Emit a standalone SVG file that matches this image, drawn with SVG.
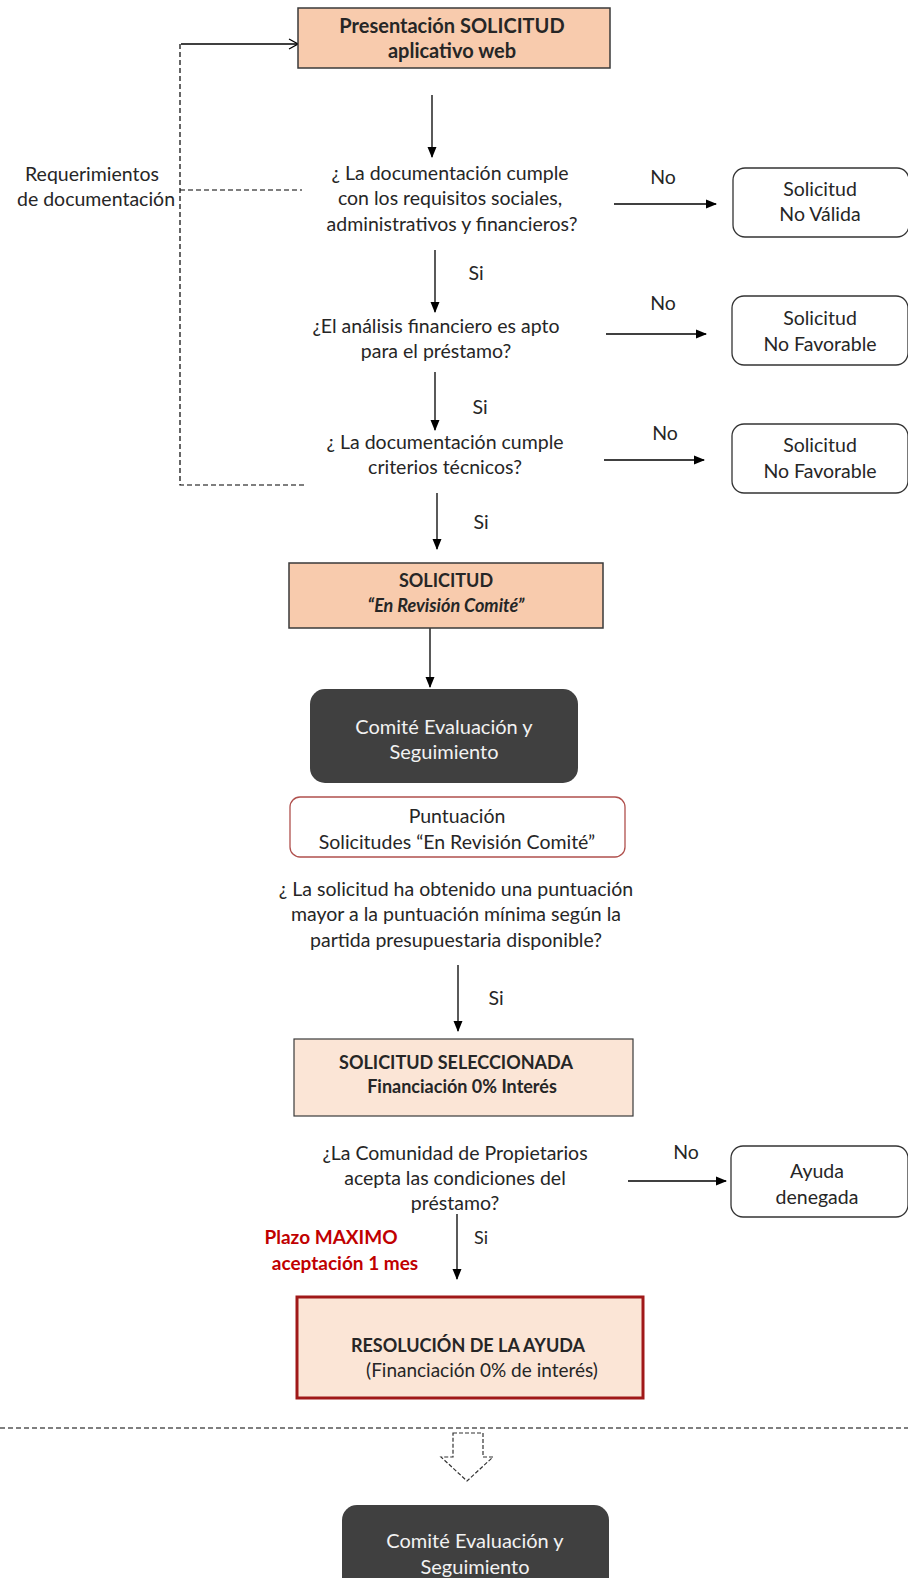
<svg xmlns="http://www.w3.org/2000/svg" width="908" height="1578" viewBox="0 0 908 1578">
<defs>
<style>
text{font-family:Lato,"Open Sans","Liberation Sans",sans-serif;font-size:19.5px;fill:#262626;text-anchor:middle}
.b{font-weight:bold;font-size:18px}
.red{fill:#C00000;font-weight:bold;font-size:19px}
.w{fill:#F2F2F2;font-size:20px}
.ln{stroke:#000;stroke-width:1.3;fill:none}
.dash{stroke:#000;stroke-width:1.2;fill:none;stroke-dasharray:5,3}
.peach{fill:#F8CBAD;stroke:#3a3a3a;stroke-width:1.5}
.lpeach{fill:#FBE5D6;stroke:#3a3a3a;stroke-width:1.2}
.out{fill:#fff;stroke:#333;stroke-width:1.3}
.dark{fill:#404040;stroke:none}
</style>
<marker id="ah" markerWidth="11" markerHeight="11" refX="10" refY="5.5" orient="auto" markerUnits="userSpaceOnUse">
<path d="M0,1 L11,5.5 L0,10 Z" fill="#000"/>
</marker>
<marker id="oa" markerWidth="12" markerHeight="12" refX="11" refY="6" orient="auto" markerUnits="userSpaceOnUse">
<path d="M2,1 L11,6 L2,11" fill="none" stroke="#000" stroke-width="1.2"/>
</marker>
</defs>

<g id="connectors">
<path class="ln" d="M181,44 H298" marker-end="url(#oa)"/>
<path class="dash" d="M180,44 V485 H306"/>
<path class="dash" d="M180,190 H302"/>
<path class="ln" d="M432,95 V157" marker-end="url(#ah)"/>
<path class="ln" d="M614,204 H716" marker-end="url(#ah)"/>
<path class="ln" d="M435,250 V312" marker-end="url(#ah)"/>
<path class="ln" d="M606,334 H706" marker-end="url(#ah)"/>
<path class="ln" d="M435,372 V430" marker-end="url(#ah)"/>
<path class="ln" d="M604,460 H704" marker-end="url(#ah)"/>
<path class="ln" d="M437,493 V549" marker-end="url(#ah)"/>
<path class="ln" d="M430,628 V687" marker-end="url(#ah)"/>
<path class="ln" d="M458,965 V1031" marker-end="url(#ah)"/>
<path class="ln" d="M628,1181 H726" marker-end="url(#ah)"/>
<path class="ln" d="M457,1214 V1279" marker-end="url(#ah)"/>
<path class="dash" d="M0,1428 H908"/>
<path d="M453,1433 H483 V1457 H493 L467,1481 L441,1457 H453 Z" fill="#fff" stroke="#333" stroke-width="1.2" stroke-dasharray="4,2"/>
<text x="663" y="184">No</text>
<text x="663" y="310">No</text>
<text x="665" y="440">No</text>
<text x="686" y="1159">No</text>
<text x="476" y="280">Si</text>
<text x="480" y="414">Si</text>
<text x="481" y="529">Si</text>
<text x="496" y="1005">Si</text>
<text x="481" y="1244" style="font-size:18px">Si</text>
<text x="92" y="181">Requerimientos</text>
<text x="96" y="206">de documentación</text>
<text class="red" x="331" y="1244">Plazo MAXIMO</text>
<text class="red" x="345" y="1270">aceptación 1 mes</text>
</g>

<g id="n1">
<rect class="peach" x="298" y="8" width="312" height="60"/>
<text class="b" x="452" y="33" style="font-size:20px">Presentación SOLICITUD</text>
<text class="b" x="452" y="58" style="font-size:20px">aplicativo web</text>
</g>

<g id="q1">
<text x="450" y="180">¿ La documentación  cumple</text>
<text x="450" y="205">con los requisitos sociales,</text>
<text x="452" y="231">administrativos y financieros?</text>
</g>

<g id="r1">
<rect class="out" x="733" y="168" width="176" height="69" rx="12"/>
<text x="820" y="196">Solicitud</text>
<text x="820" y="221">No Válida</text>
</g>

<g id="q2">
<text x="436" y="333">¿El análisis financiero es apto</text>
<text x="436" y="358">para el préstamo?</text>
</g>

<g id="r2">
<rect class="out" x="732" y="296" width="176" height="69" rx="12"/>
<text x="820" y="325">Solicitud</text>
<text x="820" y="351">No Favorable</text>
</g>

<g id="q3">
<text x="445" y="449">¿ La documentación  cumple</text>
<text x="445" y="474">criterios técnicos?</text>
</g>

<g id="r3">
<rect class="out" x="732" y="424" width="176" height="69" rx="12"/>
<text x="820" y="452">Solicitud</text>
<text x="820" y="478">No Favorable</text>
</g>

<g id="n2">
<rect class="peach" x="289" y="563" width="314" height="65"/>
<text class="b" x="446" y="587">SOLICITUD</text>
<text class="b" x="446" y="612" style="font-style:italic">“En Revisión Comité”</text>
</g>

<g id="c1">
<rect class="dark" x="310" y="689" width="268" height="94" rx="15"/>
<text class="w" x="444" y="734">Comité Evaluación y</text>
<text class="w" x="444" y="759">Seguimiento</text>
</g>

<g id="p1">
<rect x="290" y="797" width="335" height="60" rx="10" fill="#fff" stroke="#B0504D" stroke-width="1.3"/>
<text x="457" y="823">Puntuación</text>
<text x="457" y="849">Solicitudes “En Revisión Comité”</text>
</g>

<g id="q4">
<text x="456" y="896">¿ La solicitud ha obtenido una puntuación</text>
<text x="456" y="921">mayor a la puntuación mínima según la</text>
<text x="456" y="947">partida presupuestaria disponible?</text>
</g>

<g id="n3">
<rect class="lpeach" x="294" y="1039" width="339" height="77"/>
<text class="b" x="456" y="1069">SOLICITUD  SELECCIONADA</text>
<text class="b" x="462" y="1093">Financiación 0% Interés</text>
</g>

<g id="q5">
<text x="455" y="1160">¿La Comunidad de Propietarios</text>
<text x="455" y="1185">acepta las condiciones del</text>
<text x="455" y="1210">préstamo?</text>
</g>

<g id="r4">
<rect class="out" x="731" y="1146" width="177" height="71" rx="12"/>
<text x="817" y="1178">Ayuda</text>
<text x="817" y="1204">denegada</text>
</g>

<g id="n4">
<rect x="297" y="1297" width="346" height="101" fill="#FBE5D6" stroke="#A01818" stroke-width="3"/>
<text class="b" x="468" y="1352">RESOLUCIÓN DE LA AYUDA</text>
<text x="482" y="1377" style="font-size:19px">(Financiación 0% de interés)</text>
</g>

<g id="c2">
<rect class="dark" x="342" y="1505" width="267" height="90" rx="15"/>
<text class="w" x="475" y="1548">Comité Evaluación y</text>
<text class="w" x="475" y="1574">Seguimiento</text>
</g>
</svg>
